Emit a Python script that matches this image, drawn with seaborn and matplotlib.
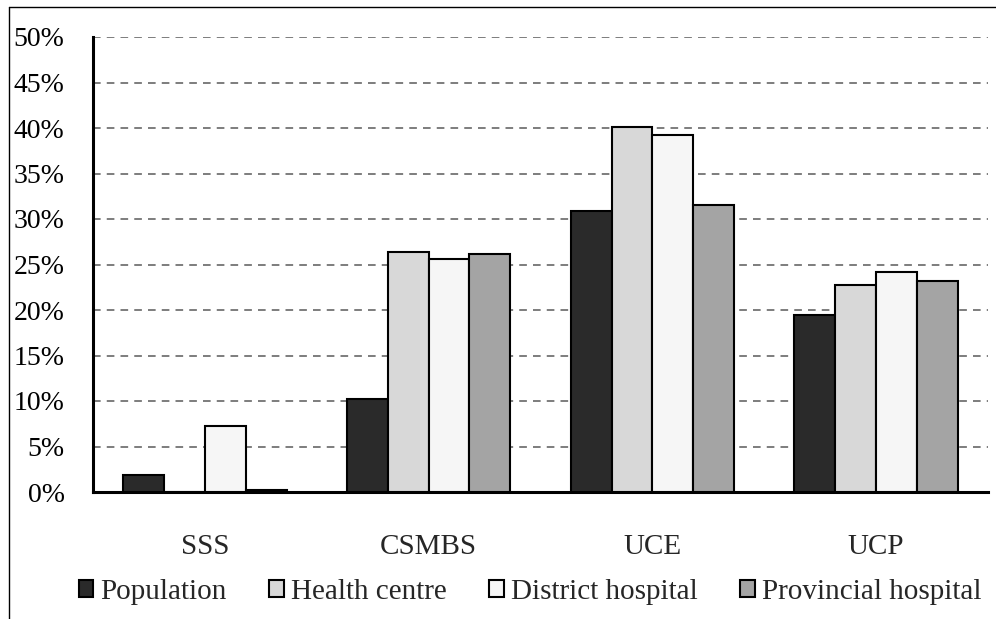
import matplotlib
matplotlib.use("Agg")
import matplotlib.pyplot as plt
from matplotlib.lines import Line2D
import seaborn as sns
import pandas as pd

# Share of each insurance scheme (%) by population and by facility level
schemes = ["SSS", "CSMBS", "UCE", "UCP"]
groups = ["Population", "Health centre", "District hospital", "Provincial hospital"]
population = [1.9, 10.2, 30.9, 19.5]
health_centre = [0.0, 26.4, 40.1, 22.7]
district_hospital = [7.3, 25.6, 39.2, 24.2]
provincial_hospital = [0.2, 26.2, 31.5, 23.2]
yticks = [0, 5, 10, 15, 20, 25, 30, 35, 40, 45, 50]
ytick_labels = [f"{v}%" for v in yticks]

colors = ["#2a2a2a", "#d8d8d8", "#f6f6f6", "#a4a4a4"]

rows = []
for grp, vals in zip(groups, [population, health_centre, district_hospital, provincial_hospital]):
    for s, v in zip(schemes, vals):
        rows.append({"scheme": s, "group": grp, "share": v})
df = pd.DataFrame(rows)

sns.set_style("white")
plt.rcParams["font.family"] = ["Liberation Serif", "DejaVu Serif"]

fig = plt.figure(figsize=(9.96, 6.19), dpi=100)
ax = fig.add_axes([93 / 996, 1 - 492 / 619, (988 - 93) / 996, (492 - 37) / 619])

sns.barplot(data=df, x="scheme", y="share", hue="group", order=schemes,
            hue_order=groups, palette=colors, width=0.73, gap=0,
            edgecolor="black", linewidth=1.5, saturation=1, ax=ax, zorder=3)

ax.set_xlim(-0.5, len(schemes) - 0.5)
ax.set_ylim(0, 50)
ax.set_yticks(yticks)
ax.set_yticklabels(ytick_labels, fontsize=20)
ax.set_xlabel("")
ax.set_ylabel("")

# dashed horizontal grid
ax.yaxis.grid(True, linestyle=(0, (5, 4)), color="#5a5a5a", linewidth=1.1, zorder=0)
ax.xaxis.grid(False)
ax.set_axisbelow(True)

for side in ["top", "right"]:
    ax.spines[side].set_visible(False)
for side in ["left", "bottom"]:
    ax.spines[side].set_linewidth(2.2)
    ax.spines[side].set_color("black")

ax.tick_params(axis="y", direction="out", length=6.5, width=2.2, pad=14, colors="black")
# category labels at centres, tick marks at group boundaries
ax.set_xticks(range(len(schemes)))
ax.set_xticklabels(schemes, fontsize=21)
ax.tick_params(axis="x", which="major", length=0, pad=30)
ax.set_xticks([i - 0.5 for i in range(len(schemes) + 1)], minor=True)
ax.tick_params(axis="x", which="minor", direction="out", length=6.5, width=2.2, colors="black")

handles, labels = ax.get_legend_handles_labels()
ax.get_legend().remove()
fig.legend(handles, labels, loc="center", bbox_to_anchor=(530 / 996, 1 - 592 / 619),
           ncol=4, frameon=False, fontsize=21, handlelength=0.5, handleheight=0.5,
           handletextpad=0.25, columnspacing=1.45)

# outer frame
fig.add_artist(Line2D([9 / 996, 9 / 996], [0, 1 - 7 / 619], transform=fig.transFigure,
                      color="black", linewidth=1.0))
fig.add_artist(Line2D([9 / 996, 1], [1 - 7 / 619, 1 - 7 / 619], transform=fig.transFigure,
                      color="black", linewidth=1.0))

fig.savefig("out.png", dpi=100)
